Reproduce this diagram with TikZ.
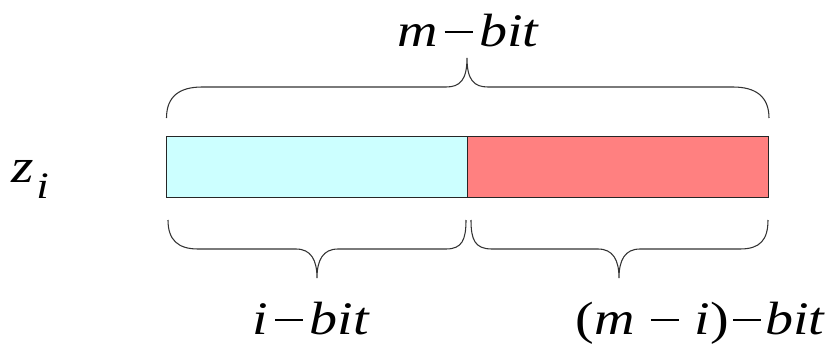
\documentclass[tikz,border=0pt]{standalone}
\usepackage{fontspec}
\setmainfont{Liberation Serif}
\newfontfamily\widefont[FakeStretch=1.2]{Liberation Serif}
\newcommand\mybar[1]{\kern#1\rule[9.5pt]{21pt}{1.9pt}\kern#1}
\begin{document}
\begin{tikzpicture}[x=0.75pt,y=-0.75pt,
  cell/.style={draw=black!85,line width=1.1pt,minimum height=45.75pt,minimum width=225.75pt,inner sep=0pt,outer sep=0pt},
  brace/.style={draw=black!80,line width=0.8pt},
  lbl/.style={font=\widefont\fontsize{35}{38}\selectfont\itshape,anchor=base,inner sep=0pt}]
\useasboundingbox (0,0) rectangle (833,350);
\node[cell,fill={rgb,255:red,204;green,255;blue,255},anchor=north west] (L) at (166.5,136.5) {};
\node[cell,fill={rgb,255:red,255;green,128;blue,128},anchor=north west] (R) at (L.north east) {};
\draw[cell,fill=none] (L.north west) rectangle (R.south east);
% top brace
\draw[brace] (166.5,118) .. controls (166.5,96) and (180,87) .. (202,87) -- (446,87)
  .. controls (460,87) and (467,80) .. (467,58)
  .. controls (467,80) and (474,87) .. (488,87) -- (733,87)
  .. controls (755,87) and (769,96) .. (769,118);
% bottom left brace
\draw[brace] (168,220) .. controls (168,240) and (178,249) .. (198,249) -- (296,249)
  .. controls (311,249) and (317,260) .. (317,278)
  .. controls (317,260) and (323,249) .. (338,249) -- (446,249)
  .. controls (462,249) and (466,240) .. (466,220);
% bottom right brace
\draw[brace] (471,220) .. controls (471,240) and (475,249) .. (492,249) -- (598,249)
  .. controls (613,249) and (619,260) .. (619,278)
  .. controls (619,260) and (625,249) .. (640,249) -- (740,249)
  .. controls (760,249) and (768,240) .. (768,220);
\node[lbl] (mbit) at (468,46) {m\mybar{5pt}bit};
\node[lbl] (ibit) at (311,334) {i\mybar{5pt}bit};
\node[lbl] (mibit) at (700,334) {{\upshape(}m\mybar{12pt}i{\upshape)}\mybar{3pt}bit};
\node[lbl,font=\widefont\fontsize{36}{40}\selectfont\itshape,anchor=base west] (z) at (11,182) {z\kern2pt\raisebox{-12pt}{\fontsize{28}{30}\selectfont i}};
\end{tikzpicture}
\end{document}
